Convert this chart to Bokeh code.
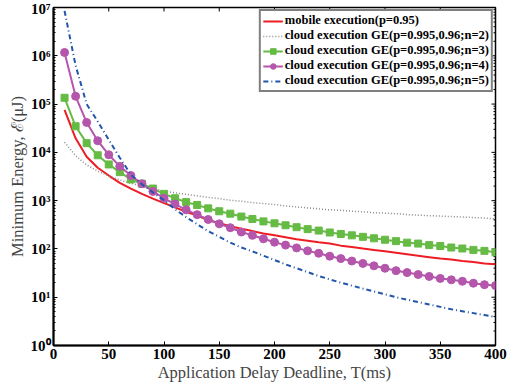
import math
from bokeh.plotting import figure
from bokeh.models import (Legend, LegendItem, FixedTicker,
                          CustomJSTickFormatter, ColumnDataSource)
from bokeh.embed import file_html
from bokeh.resources import INLINE

# Application delay deadline T (ms)
deadline_ms = [10, 20, 30, 40, 50, 60, 70, 80, 90, 100,
               110, 120, 130, 140, 150, 160, 170, 180, 190, 200,
               210, 220, 230, 240, 250, 260, 270, 280, 290, 300,
               310, 320, 330, 340, 350, 360, 370, 380, 390, 400]

# Minimum energy (uJ)
mobile_p095 = [76000, 19500, 8130, 4790, 3310, 2340, 1780, 1380, 1100, 891,
               724, 589, 490, 398, 339, 295, 263, 234, 209, 191,
               174, 158, 148, 138, 129, 117, 110, 102, 95.5, 89.1,
               83.2, 77.6, 72.4, 67.6, 63.1, 60.3, 56.2, 53.7, 50.1, 47.9]

cloud_n2 = [16200, 8510, 5500, 4070, 3240, 2690, 2290, 2000, 1780, 1580,
            1450, 1350, 1260, 1170, 1100, 1020, 977, 912, 871, 832,
            776, 741, 708, 676, 646, 631, 603, 589, 562, 550,
            537, 513, 501, 490, 479, 468, 457, 447, 437, 417]

cloud_n3 = [135000, 34700, 15500, 8710, 5620, 3890, 2750, 2240, 1780, 1380,
            1120, 933, 813, 692, 603, 537, 468, 417, 372, 339,
            309, 282, 257, 240, 219, 204, 191, 178, 166, 155,
            145, 135, 129, 120, 115, 107, 102, 95.5, 91.2, 85.1]

cloud_n4 = [1170000, 145000, 41700, 17400, 8910, 5130, 3310, 2240, 1550, 1120,
            851, 646, 513, 407, 331, 275, 224, 191, 162, 138,
            120, 105, 91.2, 81.3, 70.8, 63.1, 56.2, 50.1, 44.7, 39.8,
            35.5, 32.4, 29.5, 26.9, 24.5, 22.9, 21.4, 19.5, 18.2, 17.4]

cloud_n5 = [8510000, 631000, 100000, 43600, 18200, 7760, 3470, 2190, 1480, 1020,
            661, 457, 324, 234, 178, 135, 107, 89.1, 72.4, 58.9,
            47.9, 39.8, 33.1, 27.5, 23.4, 20.0, 17.4, 15.1, 13.2, 11.5,
            10.0, 8.91, 7.94, 7.08, 6.31, 5.62, 5.13, 4.68, 4.27, 3.89]

legend_labels = ["mobile execution(p=0.95)",
                 "cloud execution GE(p=0.995,0.96;n=2)",
                 "cloud execution GE(p=0.995,0.96;n=3)",
                 "cloud execution GE(p=0.995,0.96;n=4)",
                 "cloud execution GE(p=0.995,0.96;n=5)"]

x_ticks = [0, 50, 100, 150, 200, 250, 300, 350, 400]
y_major_ticks = [1, 10, 100, 1000, 10000, 100000, 1000000, 10000000]
y_minor_ticks = [m * d for d in y_major_ticks[:-1] for m in range(2, 10)]

X_MIN, X_MAX = 0, 400
Y_MIN, Y_MAX = 1, 1e7

SERIF = "Liberation Serif"

src = ColumnDataSource(dict(t=deadline_ms, red=mobile_p095, gray=cloud_n2,
                            green=cloud_n3, mag=cloud_n4, blue=cloud_n5))

p = figure(width=513, height=384, x_range=(X_MIN, X_MAX), y_range=(Y_MIN, Y_MAX),
           y_axis_type="log", output_backend="svg", toolbar_location=None,
           min_border_left=53, min_border_right=18, min_border_top=7,
           min_border_bottom=39)
p.background_fill_color = "white"
p.border_fill_color = "white"
p.outline_line_color = "black"
p.outline_line_width = 1.5
p.xgrid.visible = False
p.ygrid.visible = False

sup_code = """
const sup = ['\\u2070','\\u00b9','\\u00b2','\\u00b3','\\u2074','\\u2075','\\u2076','\\u2077','\\u2078','\\u2079'];
const e = Math.round(Math.log10(tick));
return '10' + String(e).split('').map(d => sup[parseInt(d)]).join('');
"""

xa = p.xaxis[0]
xa.ticker = FixedTicker(ticks=x_ticks)
xa.axis_label = "Application Delay Deadline, T(ms)"
ya = p.yaxis[0]
ya.formatter = CustomJSTickFormatter(code=sup_code)
ya.axis_label = "Minimum Energy, \u2130(\u03bcJ)"

for ax in (xa, ya):
    ax.axis_line_width = 2
    ax.axis_line_color = "black"
    ax.major_tick_in = 4
    ax.major_tick_out = 0
    ax.major_tick_line_color = "black"
    ax.major_label_text_font = SERIF
    ax.major_label_text_font_style = "bold"
    ax.major_label_text_font_size = "15px"
    ax.major_label_text_color = "black"
    ax.major_label_standoff = 3
    ax.axis_label_text_font = SERIF
    ax.axis_label_text_font_style = "normal"
    ax.axis_label_text_font_size = "16.5px"
    ax.axis_label_text_color = "#444444"
    ax.axis_label_standoff = 1
xa.minor_tick_line_color = None
ya.minor_tick_in = 2
ya.minor_tick_out = 0
ya.minor_tick_line_color = "black"

# mirror ticks on top and right edges (half of each dash is clipped by the frame)
p.scatter(x=x_ticks, y=[Y_MAX] * len(x_ticks), marker="dash", size=8,
          angle=math.pi / 2, line_color="black", line_width=1)
p.scatter(x=[X_MAX] * len(y_major_ticks), y=y_major_ticks, marker="dash", size=8,
          line_color="black", line_width=1)
p.scatter(x=[X_MAX] * len(y_minor_ticks), y=y_minor_ticks, marker="dash", size=4,
          line_color="black", line_width=1)

r_red = p.line("t", "red", source=src, line_color="#ee1c24", line_width=2)
r_gray = p.line("t", "gray", source=src, line_color="#8a8a8a", line_width=1.5,
                line_dash="1 2")
r_green_l = p.line("t", "green", source=src, line_color="#66bb44", line_width=2)
r_green_m = p.scatter("t", "green", source=src, marker="square", size=7,
                      fill_color="#66bb44", line_color="#66bb44")
r_mag_l = p.line("t", "mag", source=src, line_color="#b456ac", line_width=2)
r_mag_m = p.scatter("t", "mag", source=src, marker="circle", size=8,
                    fill_color="#b456ac", line_color="#b456ac")
r_blue = p.line("t", "blue", source=src, line_color="#2255aa", line_width=2,
                line_dash="5 3 1 3")

legend = Legend(items=[
    LegendItem(label=legend_labels[0], renderers=[r_red]),
    LegendItem(label=legend_labels[1], renderers=[r_gray]),
    LegendItem(label=legend_labels[2], renderers=[r_green_l, r_green_m]),
    LegendItem(label=legend_labels[3], renderers=[r_mag_l, r_mag_m]),
    LegendItem(label=legend_labels[4], renderers=[r_blue]),
], location="top_right")
legend.margin = 2
legend.padding = 2
legend.spacing = 0
legend.label_height = 14
legend.glyph_height = 14
legend.glyph_width = 20
legend.label_standoff = 2
legend.label_text_font = SERIF
legend.label_text_font_style = "bold"
legend.label_text_font_size = "12.5px"
legend.label_text_line_height = 1.0
legend.label_text_color = "black"
legend.border_line_color = "black"
legend.border_line_width = 2
legend.background_fill_color = "white"
legend.background_fill_alpha = 1.0
p.add_layout(legend, "center")

open("out.html", "w", encoding="utf-8").write(file_html(p, INLINE))
